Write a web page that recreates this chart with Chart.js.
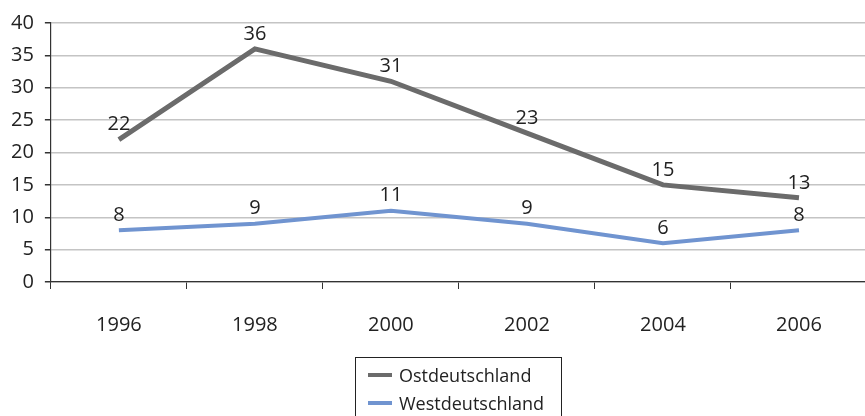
<!DOCTYPE html>
<html>
<head>
<meta charset="utf-8">
<script src="https://cdn.jsdelivr.net/npm/chart.js@4/dist/chart.umd.min.js"></script>
<style>
    body { margin: 0; background: #fff; font-family: "Open Sans", sans-serif; }
    #wrap { position: relative; width: 865px; height: 416px; overflow: hidden; }
    #box { position: absolute; left: 0; top: 0; width: 867px; height: 361px; }
    #legend {
        position: absolute; left: 355px; top: 357px; width: 207px; height: 70px;
        border: 1px solid #222; box-sizing: border-box; padding: 3px 0 0 12px;
    }
    .item { display: flex; align-items: center; height: 28px; font-size: 18px; color: #222; }
    .sym { width: 24px; height: 4px; margin-right: 7px; }
</style>
</head>
<body>
<div id="wrap">
    <div id="box"><canvas id="chart"></canvas></div>
    <div id="legend"></div>
</div>
<script>
// Chart data
const years = ['1996', '1998', '2000', '2002', '2004', '2006'];
const ostValues = [22, 36, 31, 23, 15, 13];
const westValues = [8, 9, 11, 9, 6, 8];
const seriesNames = ['Ostdeutschland', 'Westdeutschland'];
const seriesColors = ['#6b6b6b', '#7094d0'];

// Draw value labels above each point
const valueLabels = {
    id: 'valueLabels',
    afterDatasetsDraw(chart) {
        const ctx = chart.ctx;
        ctx.save();
        ctx.font = '20px "Open Sans"';
        ctx.fillStyle = '#222';
        ctx.textAlign = 'center';
        ctx.textBaseline = 'middle';
        chart.data.datasets.forEach((ds, i) => {
            chart.getDatasetMeta(i).data.forEach((pt, j) => {
                ctx.fillText(ds.data[j], pt.x, pt.y - 15);
            });
        });
        ctx.restore();
    }
};

const tickFont = { family: 'Open Sans', size: 20 };

const chart = new Chart(document.getElementById('chart'), {
    type: 'line',
    data: {
        labels: years,
        datasets: [
            { label: seriesNames[0], data: ostValues, borderColor: seriesColors[0], borderWidth: 5 },
            { label: seriesNames[1], data: westValues, borderColor: seriesColors[1], borderWidth: 4 }
        ]
    },
    options: {
        responsive: true,
        maintainAspectRatio: false,
        animation: false,
        elements: {
            point: { radius: 0 },
            line: { tension: 0, borderJoinStyle: 'miter' }
        },
        layout: { padding: { top: 18, right: 0, left: 0, bottom: 0 } },
        plugins: {
            legend: { display: false },
            tooltip: { enabled: false }
        },
        scales: {
            x: {
                offset: true,
                grid: { offset: true, drawOnChartArea: false, tickLength: 7, color: '#333', lineWidth: 1 },
                border: { color: '#333', width: 1.2 },
                ticks: { font: tickFont, color: '#222', padding: 24 }
            },
            y: {
                min: 0,
                max: 40,
                ticks: { stepSize: 5, font: tickFont, color: '#222', padding: 11 },
                grid: { color: '#c4c4c4', lineWidth: 1.5, tickLength: 6, tickColor: '#333' },
                border: { color: '#333', width: 1.2 }
            }
        }
    },
    plugins: [valueLabels]
});

// Legend
document.getElementById('legend').innerHTML = chart.data.datasets
    .map(ds => `
        <div class="item"><span class="sym" style="background:${ds.borderColor}"></span>${ds.label}</div>
    `)
    .join('');
</script>
</body>
</html>
